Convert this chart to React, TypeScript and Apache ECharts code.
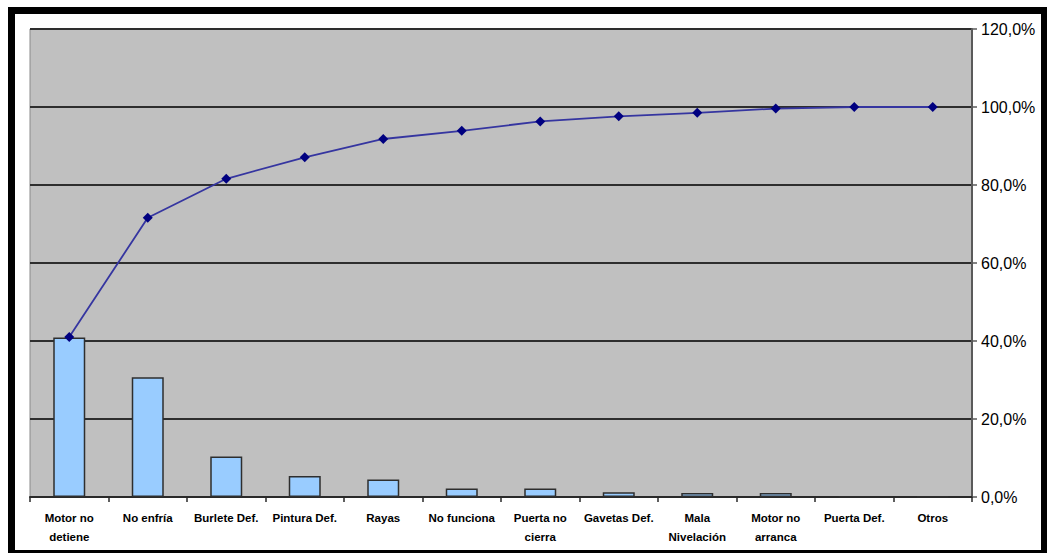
import React, { useEffect, useRef } from "react";
import * as echarts from "echarts";

const categories = [
  "Motor no\ndetiene",
  "No enfría",
  "Burlete Def.",
  "Pintura Def.",
  "Rayas",
  "No funciona",
  "Puerta no\ncierra",
  "Gavetas Def.",
  "Mala\nNivelación",
  "Motor no\narranca",
  "Puerta Def.",
  "Otros",
];
const barValues = [40.9, 30.7, 10.4, 5.4, 4.5, 2.2, 2.2, 1.2, 1.0, 1.0, 0.1, 0.1];
const cumulativeValues = [41.0, 71.6, 81.6, 87.1, 91.8, 93.9, 96.3, 97.6, 98.5, 99.6, 100.0, 100.0];
const yTicks = { min: 0, max: 120, interval: 20 };

export default function App() {
  const ref = useRef<HTMLDivElement>(null);
  useEffect(() => {
    if (!ref.current) return;
    const chart = echarts.init(ref.current, undefined, { renderer: "svg" });
    chart.setOption({
      animation: false,
      backgroundColor: "#ffffff",
      grid: {
        left: 30,
        top: 29,
        right: 77,
        bottom: 58,
        show: true,
        backgroundColor: "#c0c0c0",
        borderColor: "#8a8a8a",
        borderWidth: 1,
      },
      xAxis: {
        type: "category",
        data: categories,
        boundaryGap: true,
        axisLine: { show: true, lineStyle: { color: "#2a2a2a", width: 2 } },
        axisTick: { show: true, length: 5, lineStyle: { color: "#2a2a2a", width: 1.5 } },
        axisLabel: {
          interval: 0,
          color: "#000",
          fontFamily: "Liberation Sans",
          fontSize: 11.5,
          fontWeight: "bold",
          lineHeight: 19,
          margin: 11,
        },
        splitLine: { show: false },
      },
      yAxis: {
        type: "value",
        position: "right",
        min: yTicks.min,
        max: yTicks.max,
        interval: yTicks.interval,
        axisLine: { show: true, lineStyle: { color: "#5a5a5a", width: 2 } },
        axisTick: { show: true, length: 5, lineStyle: { color: "#5a5a5a", width: 1.5 } },
        axisLabel: {
          color: "#000",
          fontFamily: "Liberation Sans",
          fontSize: 16,
          margin: 9,
          formatter: (v: number) => v.toFixed(1).replace(".", ",") + "%",
        },
        splitLine: { show: true, lineStyle: { color: "#2e2e2e", width: 2 } },
      },
      series: [
        {
          type: "bar",
          data: barValues,
          barWidth: 32,
          itemStyle: { color: "#99ccff", borderColor: "#2e2e2e", borderWidth: 1.5 },
          z: 2,
        },
        {
          type: "line",
          data: cumulativeValues,
          symbol: "diamond",
          symbolSize: 10,
          lineStyle: { color: "#3535a0", width: 1.8 },
          itemStyle: { color: "#000080" },
          z: 3,
        },
      ],
      graphic: [
        { type: "rect", shape: { x: 8, y: 7, width: 1039, height: 7 }, style: { fill: "#000" } },
        { type: "rect", shape: { x: 8, y: 7, width: 7, height: 546 }, style: { fill: "#000" } },
        { type: "rect", shape: { x: 1041, y: 7, width: 6, height: 546 }, style: { fill: "#000" } },
        { type: "rect", shape: { x: 8, y: 550, width: 1039, height: 3 }, style: { fill: "#000" } },
      ],
    });
    return () => chart.dispose();
  }, []);
  return (
    <div
      ref={ref}
      style={{ position: "absolute", left: 0, top: 0, width: 1049, height: 555 }}
    />
  );
}
